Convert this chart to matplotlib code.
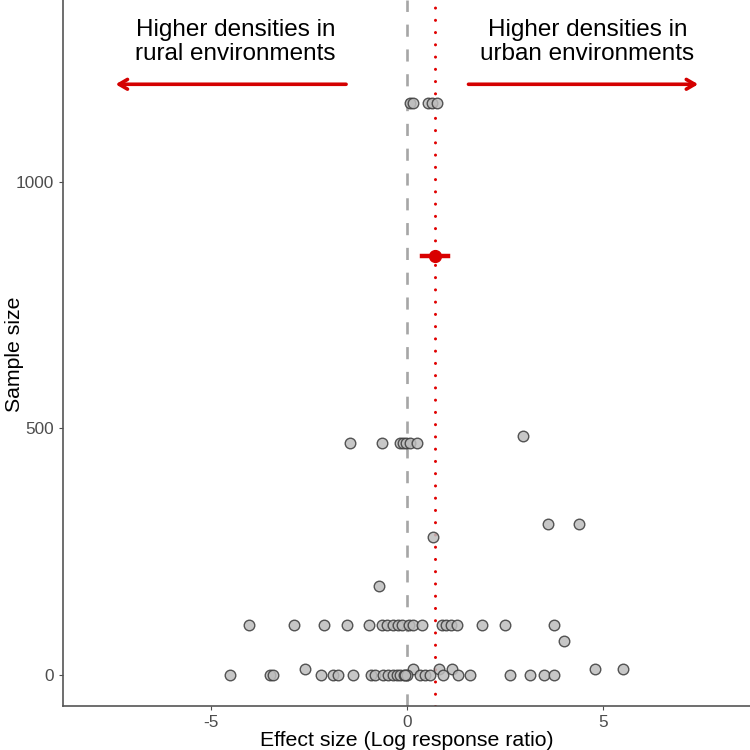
import matplotlib
matplotlib.use("Agg")
import matplotlib.pyplot as plt
import numpy as np

plt.rcParams['font.family'] = ['Liberation Sans', 'DejaVu Sans']
plt.rcParams['axes.unicode_minus'] = False

# effect sizes (log response ratio) and sample sizes
effect_n1160 = [0.08, 0.15, 0.54, 0.64, 0.77]
effect_n485 = [2.96]
effect_n470 = [-1.45, -0.64, -0.18, -0.10, -0.03, 0.08, 0.26]
effect_n305 = [3.6, 4.4]
effect_n280 = [0.66]
effect_n180 = [-0.71]
effect_n100 = [-4.03, -2.88, -2.12, -1.53, -0.97, -0.64, -0.51, -0.36, -0.23,
               -0.13, 0.05, 0.15, 0.38, 0.89, 0.99, 1.12, 1.28, 1.91, 2.5, 3.75]
effect_n68 = [4.0]
effect_n12 = [-2.6, 0.15, 0.82, 1.15, 4.8, 5.51]
effect_n0 = [-4.52, -3.5, -3.42, -2.19, -1.89, -1.76, -1.38, -0.92, -0.82, -0.61,
             -0.48, -0.36, -0.25, -0.18, -0.08, 0.0, -0.05, 0.33, 0.45, 0.59, 0.92,
             1.3, 1.61, 2.63, 3.14, 3.5, 3.75]
sample_sizes = [1160, 485, 470, 305, 280, 180, 100, 68, 12, 0]
groups = [effect_n1160, effect_n485, effect_n470, effect_n305, effect_n280,
          effect_n180, effect_n100, effect_n68, effect_n12, effect_n0]

# overall mean effect and 95% CI
mean_effect = 0.71
ci_low, ci_high = 0.38, 1.05
mean_y = 850

x = np.concatenate([np.array(g, dtype=float) for g in groups])
y = np.concatenate([np.full(len(g), n, dtype=float) for g, n in zip(groups, sample_sizes)])

fig = plt.figure(figsize=(7.5, 7.5), dpi=100)
ax = fig.add_axes([0.084, 0.059, 0.916, 0.941])

ax.axvline(0, color='#A6A6A6', lw=1.9, ls=(0, (4.6, 4.8)), zorder=1)
ax.axvline(mean_effect, color='#E00000', lw=2.2, ls=(0, (0.01, 4.0)),
           dash_capstyle='round', zorder=1)

ax.scatter(x, y, s=58, facecolor='#BDBDBD', edgecolor='#3A3A3A', lw=1.0,
           alpha=0.85, zorder=3)

ax.plot([ci_low, ci_high], [mean_y, mean_y], color='#D90000', lw=3.2, zorder=4)
ax.plot([mean_effect], [mean_y], 'o', color='#D90000', ms=8.5, zorder=5)

# arrows and labels
arrow_kw = dict(arrowstyle='->,head_length=0.6,head_width=0.35', color='#D40000', lw=2.6)
ax.annotate('', xy=(-7.5, 1198), xytext=(-1.48, 1198), arrowprops=arrow_kw)
ax.annotate('', xy=(7.5, 1198), xytext=(1.5, 1198), arrowprops=arrow_kw)
ax.text(-4.37, 1284, 'Higher densities in\nrural environments', ha='center', va='center',
        fontsize=17.5, linespacing=1.1)
ax.text(4.6, 1284, 'Higher densities in\nurban environments', ha='center', va='center',
        fontsize=17.5, linespacing=1.1)

ax.set_xlim(-8.77, 8.75)
ax.set_ylim(-63, 1369)
ax.set_xticks([-5, 0, 5])
ax.set_yticks([0, 500, 1000])
ax.set_xlabel('Effect size (Log response ratio)', fontsize=15.3, labelpad=1)
fig.text(14 / 750, 0.528, 'Sample size', rotation=90, ha='center', va='center',
         fontsize=15.3)
ax.tick_params(colors='#4D4D4D', labelsize=12.4, length=3, width=0.8)
for side in ['top', 'right']:
    ax.spines[side].set_visible(False)
for side in ['left', 'bottom']:
    ax.spines[side].set_color('#555555')
    ax.spines[side].set_linewidth(1.2)

fig.savefig('out.png', dpi=100)
